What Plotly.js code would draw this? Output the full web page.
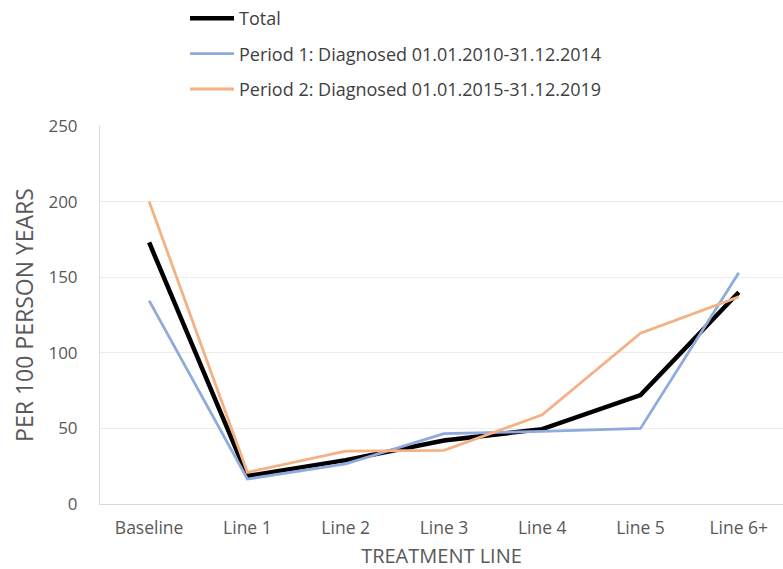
<!DOCTYPE html>
<html>
<head>
<meta charset="utf-8">
<script src="https://cdn.plot.ly/plotly-3.0.1.min.js"></script>
<style>html,body{margin:0;padding:0;background:#fff;}#chart{width:783px;height:569px;}</style>
</head>
<body>
<div id="chart"></div>
<script>
const categories = ["Baseline", "Line 1", "Line 2", "Line 3", "Line 4", "Line 5", "Line 6+"];
const totalValues = [173, 18.5, 29, 42, 49.5, 72, 140];
const period1Values = [134.5, 16.5, 26.5, 46.5, 48, 50, 153];
const period2Values = [200, 21, 35, 35.5, 59, 113, 137];
const seriesNames = ["Total", "Period 1: Diagnosed 01.01.2010-31.12.2014", "Period 2: Diagnosed 01.01.2015-31.12.2019"];
const yTicks = [0, 50, 100, 150, 200, 250];

const font = "Open Sans, Lato, Liberation Sans, sans-serif";
const traces = [
  {x: categories, y: totalValues, name: seriesNames[0], type: "scatter", mode: "lines", legendgroup: "a",
   line: {color: "#000000", width: 4.5}},
  {x: categories, y: period1Values, name: seriesNames[1], type: "scatter", mode: "lines", legendgroup: "b",
   line: {color: "#8FAADC", width: 2.8}},
  {x: categories, y: period2Values, name: seriesNames[2], type: "scatter", mode: "lines", legendgroup: "c",
   line: {color: "#F4B183", width: 2.8}}
];
const layout = {
  width: 783, height: 569,
  margin: {l: 100, r: 0, t: 125, b: 65},
  paper_bgcolor: "#ffffff", plot_bgcolor: "#ffffff",
  font: {family: font, color: "#595959", size: 15},
  showlegend: true,
  legend: {x: 0.1245, xanchor: "left", y: 1.333, yanchor: "top", orientation: "v",
    traceorder: "grouped", tracegroupgap: 9, itemwidth: 44, font: {size: 18, color: "#404040"},
    bgcolor: "rgba(0,0,0,0)"},
  xaxis: {type: "category", categoryarray: categories, range: [-0.5, 6.45],
    showgrid: false, showline: true, linecolor: "#d9d9d9", zeroline: false, ticks: "",
    tickfont: {size: 17.5, color: "#595959"}, ticklabelstandoff: 8,
    title: {text: "TREATMENT LINE", font: {size: 20, color: "#595959"}, standoff: 12}},
  yaxis: {range: [0, 250], tickvals: yTicks, showgrid: true, gridcolor: "#ececec", gridwidth: 1,
    showline: true, linecolor: "#d9d9d9", zeroline: false, ticks: "",
    tickfont: {size: 17, color: "#595959"}, ticklabelstandoff: 18,
    title: {text: "PER 100 PERSON YEARS", font: {size: 23, color: "#595959"}, standoff: 8}}
};
Plotly.newPlot("chart", traces, layout, {displayModeBar: false, staticPlot: true});
</script>
</body>
</html>
